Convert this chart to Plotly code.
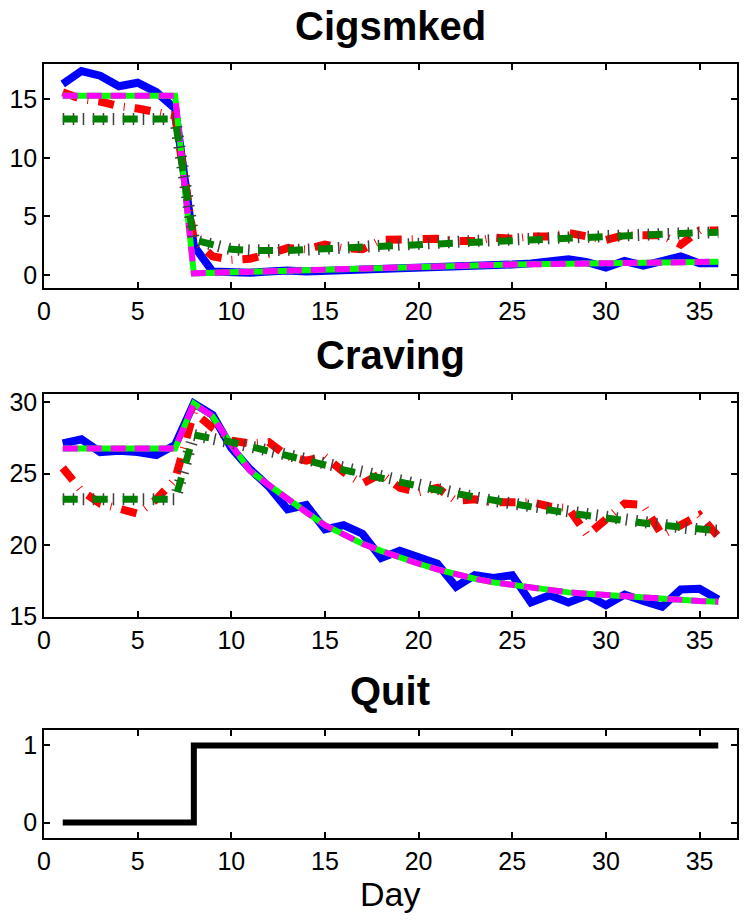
import plotly.graph_objects as go

days = list(range(1, 37))

# ---- Cigsmked panel ----
cigs_obs_a = [16.3, 17.4, 17.0, 16.1, 16.4, 15.6, 14.2, 2.5, 0.3, 0.2, 0.2, 0.3,
              0.4, 0.3, 0.35, 0.4, 0.35, 0.5, 0.45, 0.5, 0.55, 0.65, 0.7, 0.85,
              0.9, 1.0, 1.1, 1.35, 1.1, 0.65, 1.2, 0.8, 1.2, 1.6, 1.0, 1.0]
cigs_fit_a = [15.3, 15.3, 15.3, 15.3, 15.3, 15.3, 15.3, 0.15, 0.2, 0.25, 0.32, 0.38,
              0.43, 0.47, 0.5, 0.55, 0.6, 0.65, 0.7, 0.74, 0.78, 0.81, 0.84, 0.87,
              0.9, 0.93, 0.95, 0.98, 1.0, 1.02, 1.04, 1.06, 1.08, 1.1, 1.12, 1.14]
cigs_obs_b = [15.6, 15.0, 14.8, 14.4, 14.2, 13.9, 13.6, 3.0, 1.6, 1.3, 1.4, 1.8,
              2.3, 2.2, 2.6, 2.3, 2.2, 3.0, 3.0, 3.0, 3.1, 2.9, 2.9, 3.2,
              3.1, 3.3, 3.3, 3.6, 3.3, 3.0, 3.4, 3.4, 3.4, 2.6, 3.8, 3.8]
cigs_fit_b = [13.3, 13.3, 13.3, 13.3, 13.3, 13.3, 13.3, 3.0, 2.55, 2.2, 2.1, 2.07,
              2.1, 2.18, 2.25, 2.3, 2.4, 2.5, 2.6, 2.7, 2.76, 2.84, 2.92, 3.0,
              3.05, 3.1, 3.15, 3.2, 3.27, 3.33, 3.4, 3.45, 3.5, 3.55, 3.6, 3.65]

# ---- Craving panel ----
crav_obs_a = [27.1, 27.4, 26.5, 26.6, 26.5, 26.3, 27.0, 29.9, 29.1, 26.8, 25.3, 24.1,
              22.5, 22.8, 21.1, 21.4, 20.8, 19.1, 19.6, 19.2, 18.7, 17.1, 17.9, 17.7,
              17.9, 16.0, 16.5, 16.0, 16.5, 15.8, 16.55, 16.1, 15.7, 16.9, 16.95, 16.2]
crav_fit_a = [26.75, 26.75, 26.75, 26.75, 26.75, 26.75, 26.75, 29.9, 29.0, 27.0, 25.2, 24.2,
              23.2, 22.3, 21.4, 20.7, 20.1, 19.6, 19.1, 18.7, 18.3, 17.95, 17.65, 17.4,
              17.2, 17.0, 16.85, 16.7, 16.6, 16.5, 16.4, 16.3, 16.25, 16.2, 16.1, 16.05]
crav_obs_b = [25.4, 23.8, 22.9, 22.5, 22.2, 23.2, 24.6, 29.3, 28.2, 27.3, 27.1, 27.2,
              26.2, 25.9, 26.2, 25.1, 24.3, 25.0, 24.0, 23.7, 24.0, 23.1, 23.2, 23.0,
              23.0, 23.0, 22.7, 22.6, 20.7, 21.8, 22.9, 22.8, 20.7, 21.4, 22.1, 20.6]
crav_fit_b = [23.2, 23.2, 23.2, 23.2, 23.2, 23.2, 23.2, 27.7, 27.5, 27.2, 26.9, 26.6,
              26.3, 25.95, 25.6, 25.25, 24.95, 24.65, 24.35, 24.1, 23.85, 23.6, 23.35, 23.1,
              22.9, 22.7, 22.45, 22.25, 22.05, 21.9, 21.7, 21.55, 21.4, 21.25, 21.1, 21.0]

# ---- Quit panel ----
quit_vals = [0, 0, 0, 0, 0, 0, 0, 1, 1, 1, 1, 1,
             1, 1, 1, 1, 1, 1, 1, 1, 1, 1, 1, 1,
             1, 1, 1, 1, 1, 1, 1, 1, 1, 1, 1, 1]

titles = ["Cigsmked", "Craving", "Quit"]

FONT = "Liberation Sans"
W, H = 745, 923

fig = go.Figure()


def add_group(yvals_obs_a, yvals_fit_a, yvals_obs_b, yvals_fit_b, xa, ya):
    common = dict(x=days, mode="lines", xaxis=xa, yaxis=ya, showlegend=False,
                  hoverinfo="skip")
    fig.add_trace(go.Scatter(y=yvals_obs_a, line=dict(color="#0000ff", width=8), **common))
    fig.add_trace(go.Scatter(y=yvals_obs_b, line=dict(color="#ff0000", width=8,
                                                     dash="16px,10px,1px,10px"), **common))
    fig.add_trace(go.Scatter(y=yvals_fit_a, line=dict(color="#00ff00", width=6), **common))
    fig.add_trace(go.Scatter(y=yvals_fit_a, line=dict(color="#ff00ff", width=6,
                                                     dash="15px,9px"), **common))
    fig.add_trace(go.Scatter(y=yvals_fit_b, line=dict(color="#404040", width=12,
                                                     dash="1.5px,8.5px"), **common))
    fig.add_trace(go.Scatter(y=yvals_fit_b, line=dict(color="#007f00", width=7,
                                                     dash="15px,15px"), **common))


add_group(cigs_obs_a, cigs_fit_a, cigs_obs_b, cigs_fit_b, "x", "y")
add_group(crav_obs_a, crav_fit_a, crav_obs_b, crav_fit_b, "x2", "y2")
fig.add_trace(go.Scatter(x=days, y=quit_vals, mode="lines", line_shape="hv",
                         line=dict(color="black", width=6), xaxis="x3", yaxis="y3",
                         showlegend=False, hoverinfo="skip"))

xdom = [44 / W, 737 / W]


def ydom(top, bottom):
    return [1 - bottom / H, 1 - top / H]


axis_common = dict(showline=True, linecolor="black", linewidth=1.5, mirror="ticks",
                   ticks="inside", ticklen=6, tickwidth=1.5, tickcolor="black",
                   showgrid=False, zeroline=False, automargin=False,
                   tickfont=dict(family=FONT, size=25, color="black"))

fig.update_layout(
    width=W, height=H, autosize=False,
    margin=dict(l=0, r=0, t=0, b=0),
    paper_bgcolor="white", plot_bgcolor="white",
    font=dict(family=FONT, color="black"),
    xaxis=dict(domain=xdom, range=[0, 37], dtick=5, tick0=0, anchor="y", **axis_common),
    yaxis=dict(domain=ydom(64, 288), range=[-1.1, 18.0], dtick=5, tick0=0, anchor="x",
               **axis_common),
    xaxis2=dict(domain=xdom, range=[0, 37], dtick=5, tick0=0, anchor="y2", **axis_common),
    yaxis2=dict(domain=ydom(394, 617), range=[14.98, 30.56], dtick=5, tick0=0, anchor="x2",
                **axis_common),
    xaxis3=dict(domain=xdom, range=[0, 37], dtick=5, tick0=0, anchor="y3", **axis_common),
    yaxis3=dict(domain=ydom(730, 838), range=[-0.2, 1.2], tickvals=[0, 1], anchor="x3",
                **axis_common),
)

title_y = [26, 355, 691]
for t, yc in zip(titles, title_y):
    fig.add_annotation(text="<b>%s</b>" % t, x=390 / W, y=1 - yc / H, xref="paper",
                       yref="paper", xanchor="center", yanchor="middle", showarrow=False,
                       font=dict(family=FONT, size=40, color="black"))

fig.add_annotation(text="Day", x=390 / W, y=1 - 894 / H, xref="paper", yref="paper",
                   xanchor="center", yanchor="middle", showarrow=False,
                   font=dict(family=FONT, size=34, color="black"))

fig.write_html("out.html", config={"displayModeBar": False},
               post_script="document.body.style.margin='0';document.body.style.overflow='hidden';")
